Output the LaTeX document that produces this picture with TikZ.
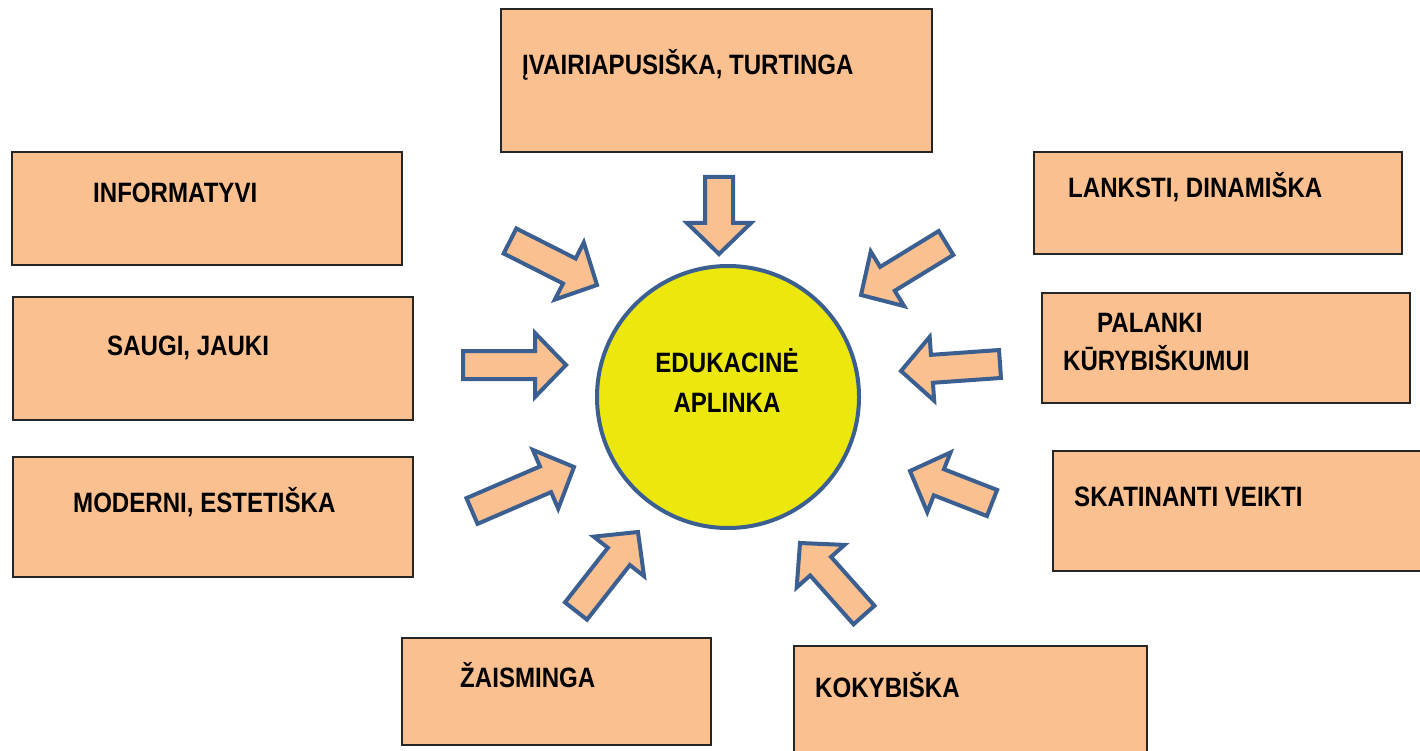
\documentclass[tikz,border=0pt]{standalone}
\usepackage{fontspec}
\setmainfont[FakeStretch=0.86]{Liberation Sans}
\usetikzlibrary{calc}
\definecolor{boxfill}{HTML}{FAC08F}
\definecolor{arrline}{HTML}{3C5F91}
\definecolor{sunfill}{HTML}{ECE80E}
\definecolor{boxline}{HTML}{262626}
\tikzset{
  box/.style={draw=boxline, line width=1.5pt, fill=boxfill, rectangle, inner sep=0pt},
  lbl/.style={anchor=base west, inner sep=0pt, font=\bfseries\fontsize{28}{34}\selectfont},
  barrow/.style={draw=arrline, line width=4pt, fill=boxfill, line join=miter},
  sun/.style={circle, draw=arrline, line width=4pt, fill=sunfill, minimum size=262pt, inner sep=0pt},
}
\newcommand\blockarrow[3]{%
  \coordinate (#1b) at ($(#3)!31pt!(#2)$);
  \draw[barrow] ($(#2)!14pt!90:(#3)$) -- ($(#1b)!14pt!90:(#3)$) -- ($(#1b)!32pt!90:(#3)$) -- (#3)
     -- ($(#1b)!32pt!-90:(#3)$) -- ($(#1b)!14pt!-90:(#3)$) -- ($(#2)!14pt!-90:(#3)$) -- cycle;
}
\begin{document}
\begin{tikzpicture}[x=1pt, y=-1pt]
\useasboundingbox (0,0) rectangle (1420,751);
\clip (0,0) rectangle (1420,751);
\fill[white] (0,0) rectangle (1420,751);

% boxes
\node[box, minimum width=431pt, minimum height=143pt] (bA) at (716.5,80.5) {};
\node[box, minimum width=390pt, minimum height=113pt] (bB) at (207,208.5) {};
\node[box, minimum width=400pt, minimum height=123pt] (bC) at (213,358.5) {};
\node[box, minimum width=400pt, minimum height=120pt] (bD) at (213,517) {};
\node[box, minimum width=309pt, minimum height=107pt] (bE) at (556.5,691.5) {};
\node[box, minimum width=353pt, minimum height=120pt] (bF) at (970.5,706) {};
\node[box, minimum width=372pt, minimum height=120pt] (bG) at (1239,511) {};
\node[box, minimum width=368pt, minimum height=102pt] (bH) at (1218,203) {};
\node[box, minimum width=368pt, minimum height=110pt] (bI) at (1226,348) {};

% labels
\node[lbl] (tA) at (522,75) {ĮVAIRIAPUSIŠKA, TURTINGA};
\node[lbl] (tB) at (93,203) {INFORMATYVI};
\node[lbl] (tC) at (107,355) {SAUGI, JAUKI};
\node[lbl] (tD) at (73,512) {MODERNI, ESTETIŠKA};
\node[lbl] (tE) at (460,687) {ŽAISMINGA};
\node[lbl] (tF) at (815,697) {KOKYBIŠKA};
\node[lbl] (tG) at (1074,506) {SKATINANTI VEIKTI};
\node[lbl] (tH) at (1068,198) {LANKSTI, DINAMIŠKA};
\node[lbl] (tI1) at (1097,332) {PALANKI};
\node[lbl] (tI2) at (1063,370) {KŪRYBIŠKUMUI};

% centre
\node[sun] (sun) at (728,397) {};
\node[font=\bfseries\fontsize{28}{34}\selectfont, anchor=base, inner sep=0pt] (s1) at (727,372) {EDUKACINĖ};
\node[font=\bfseries\fontsize{28}{34}\selectfont, anchor=base, inner sep=0pt] (s2) at (727,412) {APLINKA};

% arrow ends
\coordinate (aAt) at (719,177);  \coordinate (aAp) at (719,254);
\coordinate (aBt) at (510,241);  \coordinate (aBp) at (597,285);
\coordinate (aCt) at (463,365);  \coordinate (aCp) at (566,365);
\coordinate (aDt) at (472,511);  \coordinate (aDp) at (574,467);
\coordinate (aEt) at (576,611);  \coordinate (aEp) at (638,532);
\coordinate (aFt) at (864,615);  \coordinate (aFp) at (800,543);
\coordinate (aGt) at (992,503);  \coordinate (aGp) at (910,471);
\coordinate (aHt) at (946,243);  \coordinate (aHp) at (861,295);
\coordinate (aIt) at (1000,364); \coordinate (aIp) at (901,371);

\blockarrow{aA}{aAt}{aAp}
\blockarrow{aB}{aBt}{aBp}
\blockarrow{aC}{aCt}{aCp}
\blockarrow{aD}{aDt}{aDp}
\blockarrow{aE}{aEt}{aEp}
\blockarrow{aF}{aFt}{aFp}
\blockarrow{aG}{aGt}{aGp}
\blockarrow{aH}{aHt}{aHp}
\blockarrow{aI}{aIt}{aIp}
\end{tikzpicture}
\end{document}
